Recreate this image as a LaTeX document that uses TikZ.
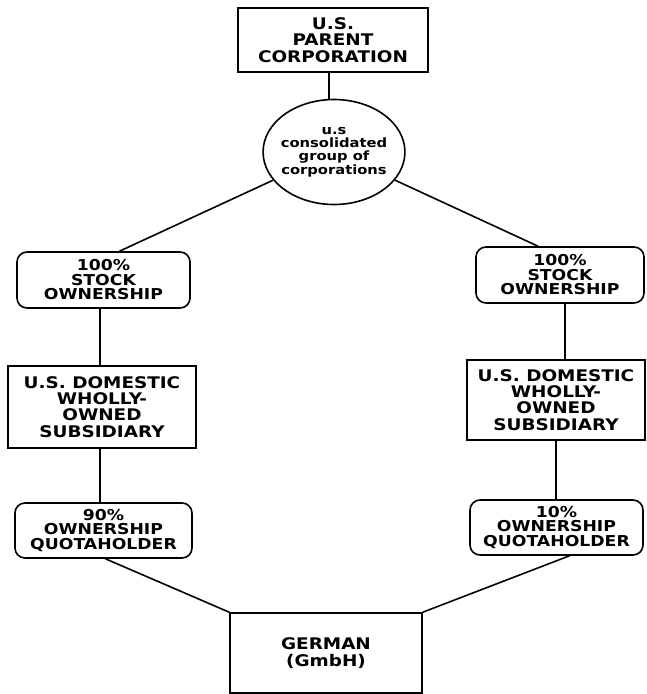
\documentclass[tikz,border=0pt]{standalone}
\usepackage{fontspec}
\setmainfont{DejaVu Sans}[FakeStretch=1.15]
\usetikzlibrary{shapes.geometric}

\begin{document}
\begin{tikzpicture}[x=1pt,y=-1pt,line width=1.6pt,
		box/.style={draw,rectangle,align=center,inner sep=0pt,font=\fontsize{16}{16.3}\selectfont\bfseries},
		rbox/.style={draw,rectangle,rounded corners=10pt,align=center,inner sep=0pt,font=\fontsize{15}{14.5}\selectfont\bfseries},
		oval/.style={draw,ellipse,align=center,inner sep=-3pt,font=\fontsize{12.8}{13.2}\selectfont\bfseries}]
		\useasboundingbox (0,0) rectangle (646,694);
		% Capogruppo e gruppo consolidato
		\node [box, minimum width=190pt, minimum height=64pt] (parent) at (333,40) {U.S.\\PARENT\\CORPORATION};
		\node [oval, minimum width=140pt, minimum height=105pt] (group) at (334,152) {u.s\\consolidated\\group of\\corporations};
		% Ramo sinistro
		\node [rbox, minimum width=173pt, minimum height=56pt] (stockL) at (103.5,280) {100\%\\STOCK\\OWNERSHIP};
		\node [box, minimum width=188pt, minimum height=82pt] (domL) at (102,407) {U.S. DOMESTIC\\WHOLLY-\\OWNED\\SUBSIDIARY};
		\node [rbox, minimum width=177pt, minimum height=55pt] (quotaL) at (103.5,530.5) {90\%\\OWNERSHIP\\QUOTAHOLDER};
		% Ramo destro
		\node [rbox, minimum width=168pt, minimum height=56pt] (stockR) at (560,275) {100\%\\STOCK\\OWNERSHIP};
		\node [box, minimum width=178pt, minimum height=80pt] (domR) at (556,400) {U.S. DOMESTIC\\WHOLLY-\\OWNED\\SUBSIDIARY};
		\node [rbox, minimum width=173pt, minimum height=55pt] (quotaR) at (556.5,527.5) {10\%\\OWNERSHIP\\QUOTAHOLDER};
		% Societa tedesca
		\node [box, minimum width=192pt, minimum height=80pt] (german) at (326,653) {GERMAN\\(GmbH)};
		% Collegamenti
		\draw ([xshift=-4pt]parent.south) -- ([xshift=-4pt]parent.south |- group.north);
		\draw (group) -- ([xshift=16pt]stockL.north);
		\draw (group) -- ([xshift=-22pt]stockR.north);
		\draw ([xshift=-3.5pt]stockL.south) -- ([xshift=-3.5pt]stockL.south |- domL.north);
		\draw ([xshift=-2pt]domL.south) -- ([xshift=-2pt]domL.south |- quotaL.north);
		\draw ([xshift=5pt]stockR.south) -- ([xshift=5pt]stockR.south |- domR.north);
		\draw (domR.south) -- (domR.south |- quotaR.north);
		\draw ([xshift=2pt]quotaL.south) -- (german.north west);
		\draw ([xshift=13pt]quotaR.south) -- (german.north east);
	\end{tikzpicture}
\end{document}
